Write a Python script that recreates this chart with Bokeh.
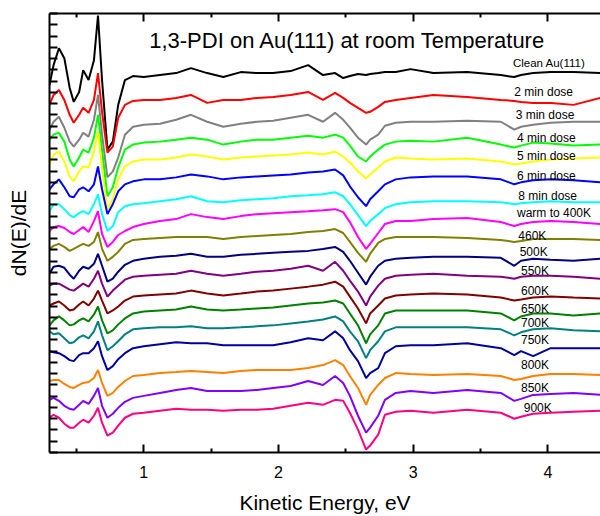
from bokeh.plotting import figure
from bokeh.models import Range1d, LinearAxis, FixedTicker, Label, CustomJSTickFormatter
from bokeh.embed import file_html
from bokeh.resources import INLINE

# Kinetic energy grid (eV)
energy = [0.30, 0.33, 0.37, 0.41, 0.45, 0.48, 0.52, 0.55, 0.59, 0.63,
          0.66, 0.69, 0.73, 0.77, 0.81, 0.86, 0.92, 1.00, 1.12, 1.24,
          1.35, 1.47, 1.59, 1.72, 1.84, 1.96, 2.09, 2.22, 2.33, 2.42,
          2.48, 2.53, 2.59, 2.65, 2.68, 2.74, 2.79, 2.87, 2.98, 3.15,
          3.40, 3.65, 3.75, 3.80, 3.89, 4.02, 4.19, 4.39]

# dN(E)/dE (arbitrary units, stacked)
clean = [381, 401, 418, 408, 378, 364, 374, 396, 386, 406, 451, 386, 316, 324, 361, 386, 390, 389, 391, 393,
         398, 393, 389, 394, 393, 393, 395, 401, 391, 393, 388, 390, 392, 391, 392, 393, 394, 394, 397, 393,
         394, 391, 389, 391, 393, 394, 394, 393]
dose2 = [361, 371, 376, 366, 351, 343, 351, 358, 353, 366, 393, 354, 313, 319, 348, 361, 365, 366, 366, 368,
         371, 363, 366, 366, 368, 369, 371, 374, 366, 373, 368, 363, 358, 353, 354, 359, 364, 366, 368, 371,
         369, 366, 365, 364, 363, 363, 361, 368]
dose3 = [336, 344, 349, 338, 324, 319, 326, 333, 329, 346, 371, 331, 288, 294, 308, 331, 339, 341, 342, 346,
         351, 344, 339, 342, 344, 345, 348, 351, 344, 353, 346, 338, 328, 321, 326, 331, 340, 343, 344, 344,
         345, 344, 336, 339, 341, 343, 344, 344]
dose4 = [326, 331, 333, 324, 306, 299, 308, 316, 313, 328, 351, 316, 269, 278, 298, 316, 321, 323, 324, 326,
         328, 326, 321, 324, 326, 326, 328, 330, 328, 331, 328, 320, 309, 304, 309, 316, 321, 324, 325, 324,
         328, 321, 318, 320, 323, 322, 320, 321]
dose5 = [301, 311, 314, 304, 289, 284, 294, 299, 298, 314, 334, 296, 256, 266, 286, 299, 304, 306, 306, 308,
         311, 309, 306, 308, 309, 310, 311, 313, 311, 314, 309, 303, 294, 287, 291, 298, 304, 308, 307, 306,
         307, 304, 301, 302, 304, 306, 307, 308]
dose6 = [276, 281, 286, 278, 269, 268, 276, 278, 274, 281, 299, 276, 251, 261, 274, 281, 284, 286, 286, 288,
         291, 289, 286, 288, 289, 290, 291, 293, 294, 296, 290, 279, 268, 259, 266, 274, 281, 286, 288, 289,
         289, 286, 281, 283, 285, 286, 285, 283]
dose8 = [254, 261, 261, 256, 250, 248, 252, 254, 251, 261, 271, 251, 234, 239, 253, 259, 261, 262, 264, 266,
         269, 264, 263, 265, 266, 267, 269, 270, 271, 273, 269, 261, 250, 239, 244, 251, 257, 261, 263, 264,
         264, 263, 261, 262, 263, 264, 263, 263]
warm400 = [234, 238, 239, 237, 233, 231, 235, 238, 233, 244, 254, 231, 218, 223, 230, 234, 238, 241, 244, 246,
           251, 248, 246, 249, 251, 252, 253, 254, 255, 256, 253, 243, 228, 216, 221, 232, 241, 244, 244, 246,
           247, 243, 239, 241, 243, 244, 243, 241]
t460 = [216, 219, 221, 218, 214, 216, 219, 221, 219, 223, 233, 216, 204, 208, 213, 221, 225, 226, 227, 228,
        228, 228, 226, 228, 229, 230, 231, 233, 234, 236, 232, 223, 212, 203, 211, 222, 226, 228, 228, 228,
        227, 225, 223, 224, 226, 226, 226, 225]
t500 = [191, 198, 199, 197, 190, 186, 194, 198, 196, 201, 211, 199, 183, 186, 193, 200, 204, 206, 208, 209,
        211, 208, 208, 210, 211, 212, 213, 214, 216, 218, 213, 204, 192, 180, 188, 199, 204, 206, 207, 208,
        208, 207, 199, 204, 206, 205, 204, 206]
t550 = [179, 181, 181, 178, 175, 174, 178, 181, 178, 186, 194, 181, 168, 174, 179, 185, 188, 189, 190, 191,
        194, 191, 189, 191, 193, 194, 196, 199, 194, 203, 194, 184, 173, 159, 168, 179, 186, 189, 190, 191,
        189, 188, 186, 188, 189, 189, 188, 186]
t600 = [159, 161, 163, 159, 154, 155, 160, 163, 159, 166, 174, 164, 151, 154, 158, 164, 168, 169, 170, 171,
        174, 171, 169, 171, 173, 174, 176, 178, 180, 183, 178, 168, 156, 141, 151, 159, 166, 169, 170, 171,
        170, 167, 164, 165, 167, 168, 167, 166]
t650 = [139, 144, 148, 144, 139, 140, 144, 146, 143, 150, 158, 144, 131, 134, 140, 146, 151, 153, 154, 155,
        158, 155, 154, 155, 156, 157, 159, 161, 162, 164, 161, 151, 139, 121, 130, 139, 151, 154, 154, 154,
        154, 151, 144, 148, 151, 151, 149, 151]
t700 = [133, 130, 131, 126, 121, 122, 127, 129, 126, 133, 143, 129, 114, 118, 123, 130, 135, 136, 137, 137,
        138, 136, 136, 137, 138, 139, 141, 143, 145, 148, 143, 133, 123, 106, 114, 123, 133, 137, 137, 137,
        137, 135, 129, 132, 135, 136, 134, 133]
t750 = [113, 112, 111, 108, 104, 103, 109, 111, 111, 116, 123, 108, 94, 98, 105, 111, 116, 118, 120, 122,
        121, 121, 119, 119, 119, 119, 122, 126, 124, 133, 126, 114, 103, 86, 91, 96, 111, 118, 119, 119,
        121, 116, 109, 113, 108, 116, 116, 116]
t800 = [83, 84, 84, 80, 77, 76, 79, 81, 82, 86, 94, 81, 68, 71, 77, 83, 88, 89, 91, 92,
        93, 92, 91, 93, 94, 94, 94, 96, 99, 104, 99, 88, 76, 59, 69, 79, 86, 91, 90, 89,
        90, 88, 84, 85, 88, 90, 90, 89]
t850 = [64, 66, 63, 58, 55, 54, 59, 63, 60, 68, 76, 58, 46, 50, 56, 62, 66, 68, 71, 74,
        76, 73, 73, 73, 74, 76, 78, 83, 79, 88, 81, 68, 48, 31, 36, 48, 64, 71, 73, 71,
        74, 71, 63, 65, 69, 70, 71, 69]
t900 = [46, 49, 46, 40, 36, 36, 41, 44, 41, 48, 56, 41, 28, 31, 38, 46, 50, 51, 53, 55,
        54, 54, 53, 54, 54, 55, 58, 61, 59, 64, 63, 51, 34, 14, 18, 29, 49, 52, 53, 51,
        54, 51, 45, 47, 50, 51, 52, 53]

series = [clean, dose2, dose3, dose4, dose5, dose6, dose8, warm400, t460, t500,
          t550, t600, t650, t700, t750, t800, t850, t900]
names = ["Clean Au(111)", "2 min dose", "3 min dose", "4 min dose", "5 min dose",
         "6 min dose", "8 min dose", "warm to 400K", "460K", "500K", "550K", "600K",
         "650K", "700K", "750K", "800K", "850K", "900K"]
colors = ["#000000", "#FF0000", "#808080", "#00FF00", "#FFFF00", "#0000FF", "#00FFFF",
          "#FF00FF", "#808000", "#000080", "#800080", "#800000", "#008000", "#008080",
          "#0000A0", "#FF8000", "#8000FF", "#FF0080"]
label_x = [3.74, 3.75, 3.76, 3.77, 3.77, 3.77, 3.78, 3.77, 3.78, 3.79,
           3.80, 3.80, 3.80, 3.80, 3.80, 3.80, 3.80, 3.82]
label_y = [403, 374, 351, 328, 310, 289, 269, 252, 229, 213,
           194, 174, 155, 141, 124, 99, 76, 56]

x_major = [1, 2, 3, 4]
x_minor = [0.5, 1.5, 2.5, 3.5]
x_tick_labels = {1: "1", 2: "2", 3: "3", 4: "4"}

FONT = "Liberation Sans"
Y0, Y1 = 11, 453

p = figure(width=600, height=516, output_backend="svg", toolbar_location=None,
           x_range=Range1d(0.30, 4.39), y_range=Range1d(Y0, Y1),
           x_axis_location=None, y_axis_location=None,
           min_border_left=49, min_border_right=0, min_border_top=13, min_border_bottom=61)
p.outline_line_color = None
p.grid.grid_line_color = None
p.background_fill_color = "white"

empty = CustomJSTickFormatter(code="return ''")

def style(ax):
    ax.axis_line_width = 2
    ax.major_tick_line_width = 2
    ax.minor_tick_line_width = 2
    ax.major_tick_in = 8
    ax.major_tick_out = 0
    ax.minor_tick_in = 4
    ax.minor_tick_out = 0

xb = LinearAxis(ticker=FixedTicker(ticks=x_major, minor_ticks=x_minor),
                axis_label="Kinetic Energy, eV")
style(xb)
xb.major_label_overrides = x_tick_labels
xb.major_label_text_font = FONT
xb.major_label_text_font_size = "16px"
xb.major_label_text_color = "black"
xb.major_label_standoff = 13
xb.axis_label_text_font = FONT
xb.axis_label_text_font_size = "21px"
xb.axis_label_text_font_style = "normal"
xb.axis_label_text_color = "black"
xb.axis_label_standoff = 10
p.add_layout(xb, "below")

xt = LinearAxis(ticker=FixedTicker(ticks=x_major, minor_ticks=x_minor), formatter=empty)
style(xt)
xt.major_label_standoff = 0
xt.major_label_text_font_size = "0px"
p.add_layout(xt, "above")

y_ticks = [Y0 + k * (Y1 - Y0) / 39 for k in range(40)]
yl = LinearAxis(ticker=FixedTicker(ticks=y_ticks, minor_ticks=[]), formatter=empty,
                axis_label="dN(E)/dE")
style(yl)
yl.major_label_standoff = 0
yl.major_label_text_font_size = "0px"
yl.axis_label_text_font = FONT
yl.axis_label_text_font_size = "21px"
yl.axis_label_text_font_style = "normal"
yl.axis_label_text_color = "black"
yl.axis_label_standoff = 20
p.add_layout(yl, "left")

for ys, c in zip(series, colors):
    p.line(energy, ys, line_color=c, line_width=2)

for name, lx, ly in zip(names, label_x, label_y):
    p.add_layout(Label(x=lx, y=ly, text=name, text_align="left", text_baseline="middle",
                       text_font=FONT, text_font_size="11.5px" if name.startswith("Clean") else "12px",
                       text_color="black"))

p.add_layout(Label(x=2.512, y=426, text="1,3-PDI on Au(111) at room Temperature",
                   text_align="center", text_baseline="middle", text_font=FONT,
                   text_font_size="22px", text_color="black"))

open("out.html", "w").write(file_html(p, INLINE))
